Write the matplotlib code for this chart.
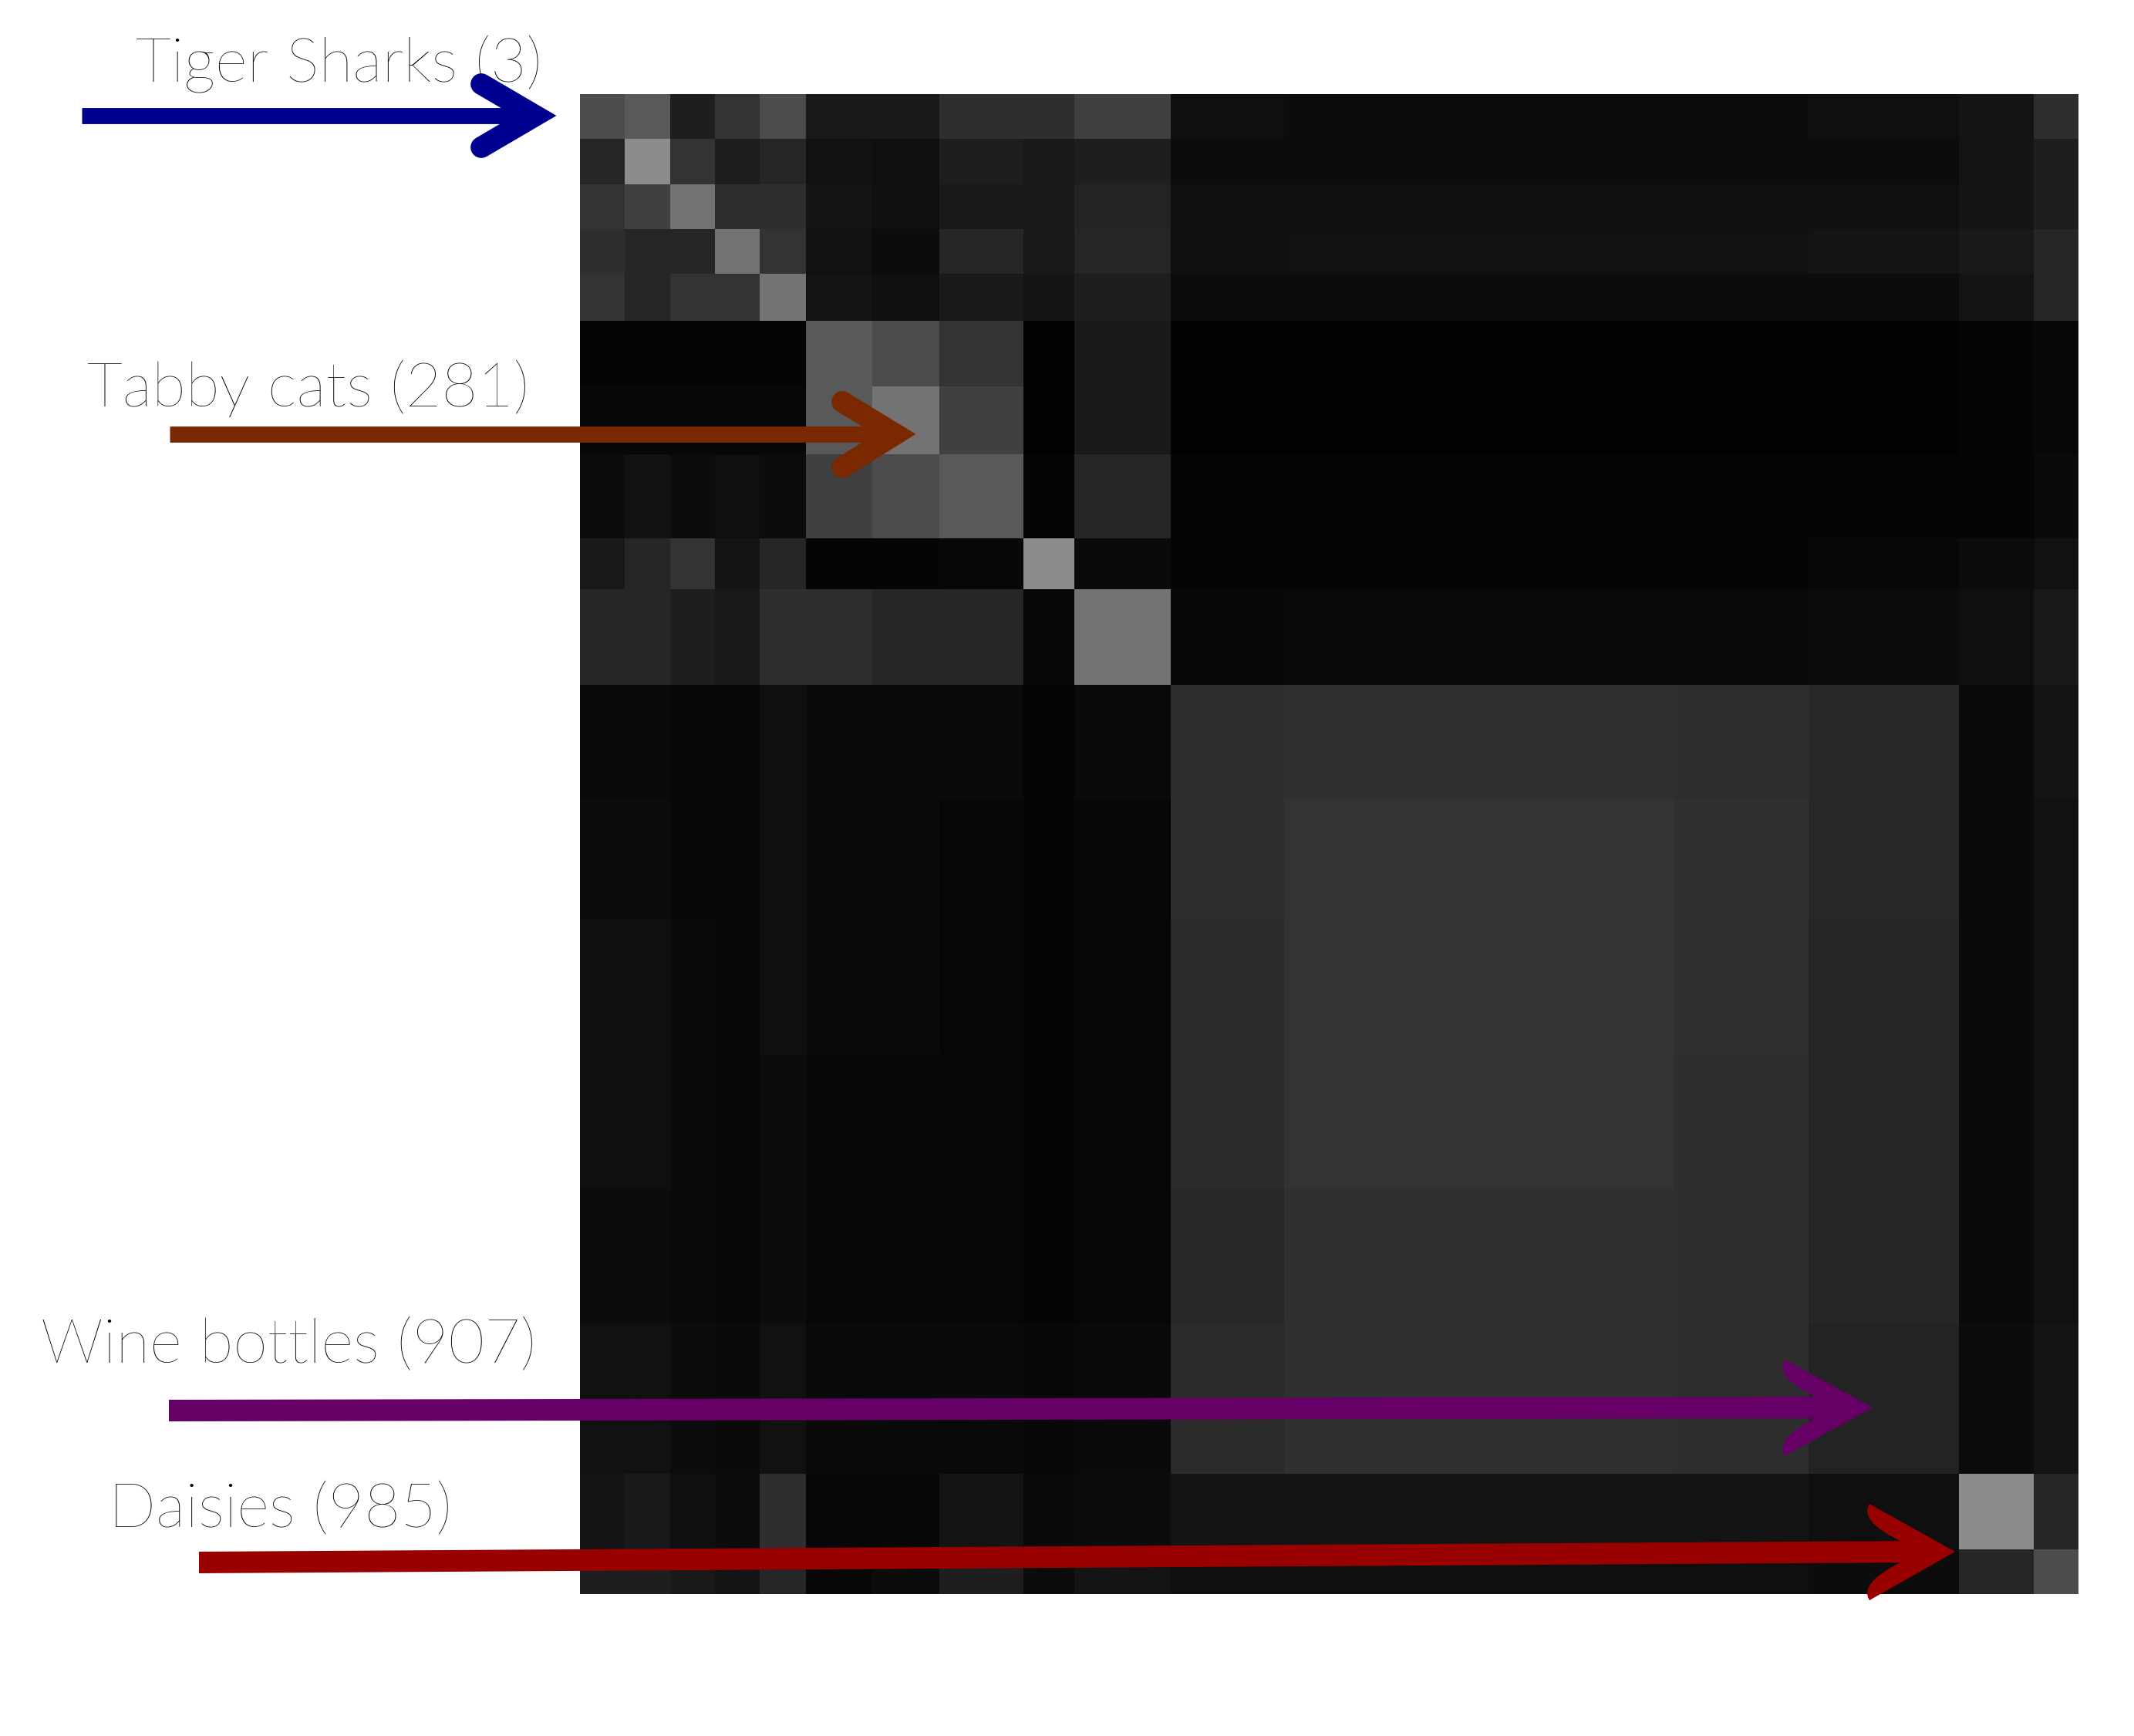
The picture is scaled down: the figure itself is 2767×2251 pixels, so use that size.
import matplotlib
matplotlib.use('Agg')
import matplotlib.pyplot as plt
from matplotlib.path import Path
from matplotlib.patches import PathPatch, Polygon
import numpy as np

W, H = 2767, 2251

# class index edges of the blocks (same on both axes)
edges = [0, 30, 60, 90, 120, 151, 195, 240, 296, 330, 394, 470, 550, 640, 730, 820, 920, 970, 1000]

# share of white pixels per block, one list per row
r00 = [.30, .35, .12, .20, .30, .10, .10, .18, .18, .25, .06, .05, .05, .05, .05, .06, .08, .18]
r01 = [.15, .55, .20, .12, .15, .07, .06, .12, .10, .12, .05, .05, .05, .05, .05, .05, .08, .12]
r02 = [.20, .25, .45, .18, .18, .08, .06, .10, .10, .14, .06, .06, .06, .06, .06, .06, .08, .12]
r03 = [.18, .15, .15, .45, .20, .07, .05, .15, .10, .15, .06, .07, .07, .07, .07, .08, .10, .15]
r04 = [.20, .15, .20, .20, .45, .08, .06, .10, .08, .12, .05, .05, .05, .05, .05, .05, .08, .15]
r05 = [.02, .02, .02, .02, .02, .35, .30, .20, .01, .10, .01, .01, .01, .01, .01, .01, .02, .03]
r06 = [.03, .03, .03, .03, .03, .35, .45, .25, .01, .10, .01, .01, .01, .01, .01, .01, .02, .03]
r07 = [.05, .07, .05, .06, .05, .25, .30, .35, .02, .15, .02, .02, .02, .02, .02, .02, .02, .04]
r08 = [.10, .15, .20, .08, .15, .02, .02, .03, .55, .04, .02, .02, .02, .02, .02, .03, .05, .07]
r09 = [.15, .15, .12, .10, .18, .18, .15, .15, .03, .45, .03, .04, .04, .04, .04, .05, .06, .10]
r10 = [.04, .04, .03, .03, .06, .04, .04, .04, .02, .04, .18, .19, .19, .19, .18, .16, .04, .08]
r11 = [.05, .05, .03, .03, .06, .04, .04, .03, .02, .03, .18, .20, .20, .20, .19, .16, .04, .07]
r12 = [.06, .06, .04, .03, .06, .04, .04, .03, .02, .03, .17, .20, .20, .20, .19, .15, .04, .07]
r13 = [.06, .06, .04, .03, .05, .03, .03, .03, .02, .03, .17, .20, .20, .20, .18, .15, .04, .07]
r14 = [.05, .05, .04, .03, .05, .03, .03, .03, .02, .03, .16, .19, .19, .19, .18, .15, .04, .07]
r15 = [.07, .07, .05, .04, .07, .04, .04, .04, .03, .04, .17, .19, .19, .19, .18, .14, .05, .08]
r16 = [.08, .10, .06, .05, .18, .03, .03, .08, .04, .05, .08, .08, .08, .08, .08, .06, .55, .15]
r17 = [.12, .12, .10, .08, .15, .03, .05, .12, .05, .08, .06, .06, .06, .06, .06, .05, .15, .30]
density = np.array([r00, r01, r02, r03, r04, r05, r06, r07, r08,
                    r09, r10, r11, r12, r13, r14, r15, r16, r17])

plt.rcParams['font.family'] = ['Lato', 'DejaVu Sans']

fig = plt.figure(figsize=(W / 100, H / 100), dpi=100)

# labels sit under the matrix, ")" of Tabby cats gets cut off by it
labels = [('Tiger Sharks (3)', 176, 106), ('Tabby cats (281)', 113, 527),
          ('Wine bottles (907)', 53, 1767), ('Daisies (985)', 141, 1980)]
for txt, x, y in labels:
    fig.text(x / W, 1 - y / H, txt, fontsize=58, color='black', weight='light',
             ha='left', va='baseline', zorder=1)

ax = fig.add_axes([752 / W, 1 - 2067 / H, 1943 / W, 1945 / H], zorder=5)
ax.pcolormesh(edges, edges, density, cmap='gray', vmin=0, vmax=1, rasterized=True)
ax.set_ylim(1000, 0)
ax.axis('off')

# arrows over everything, in pixel coords
top = fig.add_axes([0, 0, 1, 1], zorder=6)
top.set_xlim(0, W)
top.set_ylim(H, 0)
top.axis('off')
top.patch.set_alpha(0)


def chevron(x0, x1, y, xb, ytop, ybot, color):
    top.plot([x0, x1 - 15], [y, y], color=color, lw=15, solid_capstyle='butt')
    top.plot([xb, x1 - 12, xb], [ytop, y, ybot], color=color, lw=20,
             solid_capstyle='round', solid_joinstyle='miter')


def long_arrow(x0, y0, x1, y1, xb, ytop, ybot, color):
    top.add_patch(Polygon([(x0, y0 + 14), (x0, y0 - 14), (x1 - 50, y1 - 14), (x1 - 50, y1 + 14)],
                          closed=True, fc=color, ec='none'))
    verts = [(xb, ytop), (x1, y1), (xb, ybot),
             (xb - 14, ybot - 22), (xb + 40, y1 + 14),
             (x1 - 60, y1), (xb + 40, y1 - 14),
             (xb - 14, ytop + 22), (xb, ytop), (xb, ytop)]
    codes = [Path.MOVETO, Path.LINETO, Path.LINETO,
             Path.CURVE3, Path.CURVE3,
             Path.LINETO, Path.LINETO,
             Path.CURVE3, Path.CURVE3, Path.CLOSEPOLY]
    top.add_patch(PathPatch(Path(verts, codes), fc=color, ec='none'))


chevron(106, 706, 150, 624, 109, 191, '#000090')
chevron(220, 1173, 563, 1092, 521, 606, '#7a2800')
long_arrow(219, 1829, 2428, 1825, 2314, 1763, 1888, '#660066')
long_arrow(258, 2026, 2535, 2012, 2424, 1950, 2075, '#990000')

fig.savefig('out.png', dpi=100, facecolor='white')
